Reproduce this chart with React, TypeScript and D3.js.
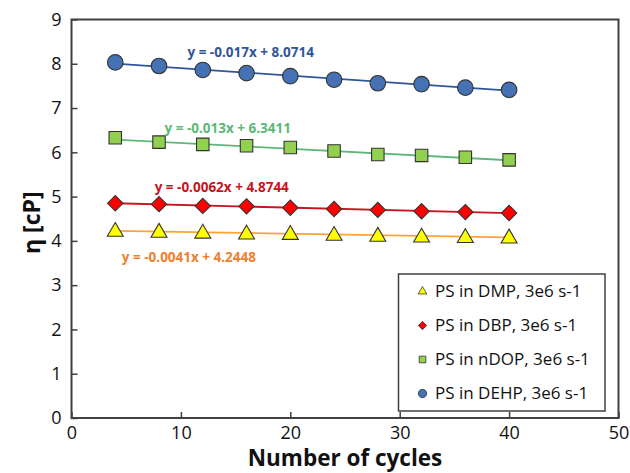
import {useEffect, useRef} from "react";
import * as d3 from "d3";

const cycles = [4, 8, 12, 16, 20, 24, 28, 32, 36, 40];
const dmpValues = [4.23, 4.21, 4.19, 4.17, 4.16, 4.14, 4.12, 4.10, 4.09, 4.08];
const dbpValues = [4.85, 4.83, 4.79, 4.78, 4.75, 4.72, 4.70, 4.67, 4.65, 4.63];
const ndopValues = [6.33, 6.23, 6.18, 6.15, 6.11, 6.03, 5.95, 5.93, 5.89, 5.83];
const dehpValues = [8.03, 7.95, 7.86, 7.79, 7.72, 7.64, 7.56, 7.54, 7.46, 7.41];

const seriesNames = ["PS in DMP, 3e6 s-1", "PS in DBP, 3e6 s-1", "PS in nDOP, 3e6 s-1", "PS in DEHP, 3e6 s-1"];
const slopes = [-0.0041, -0.0062, -0.013, -0.017];
const intercepts = [4.2448, 4.8744, 6.3411, 8.0714];
const equations = ["y = -0.0041x + 4.2448", "y = -0.0062x + 4.8744", "y = -0.013x + 6.3411", "y = -0.017x + 8.0714"];

const xTicks = [0, 10, 20, 30, 40, 50];
const yTicks = [0, 1, 2, 3, 4, 5, 6, 7, 8, 9];

const W = 630, H = 473;
const FONT = "'Open Sans', 'DejaVu Sans', sans-serif";

const App = () => {
    const svgRef = useRef<SVGSVGElement | null>(null);

    useEffect(() => {
        const svg = d3.select(svgRef.current);
        svg.selectAll("*").remove();

        const x = d3.scaleLinear().domain([0, 50]).range([71.5, 618.5]);
        const y = d3.scaleLinear().domain([0, 9]).range([418, 19.5]);

        const series = [
            {name: seriesNames[0], values: dmpValues, shape: "triangle", fill: "#FFFF00", line: "#FFA235", text: "#F0802E", lx: 4.6, ly: 3.63},
            {name: seriesNames[1], values: dbpValues, shape: "diamond", fill: "#FF0000", line: "#C8141E", text: "#C8141E", lx: 7.6, ly: 5.21},
            {name: seriesNames[2], values: ndopValues, shape: "square", fill: "#92D050", line: "#5CB878", text: "#5CB878", lx: 8.5, ly: 6.55},
            {name: seriesNames[3], values: dehpValues, shape: "circle", fill: "#4472B4", line: "#2F5597", text: "#2F5597", lx: 10.6, ly: 8.25},
        ];

        const symbolFor = (shape: string, size: number) => {
            if (shape === "triangle") return d3.symbol().type(d3.symbolTriangle).size(size * 0.58)();
            if (shape === "diamond") return d3.symbol().type(d3.symbolSquare).size(size * 0.62)();
            if (shape === "square") return d3.symbol().type(d3.symbolSquare).size(size * 0.82)();
            return d3.symbol().type(d3.symbolCircle).size(size)();
        };

        svg.append("rect").attr("width", W).attr("height", H).attr("fill", "#fff");

        // axes
        const xAxis = svg.append("g")
            .attr("transform", `translate(0,${y(0)})`)
            .call(d3.axisBottom(x).tickValues(xTicks).tickSizeInner(-6).tickSizeOuter(0).tickPadding(8));
        const yAxis = svg.append("g")
            .attr("transform", `translate(${x(0)},0)`)
            .call(d3.axisLeft(y).tickValues(yTicks).tickSizeInner(-6).tickSizeOuter(0).tickPadding(10));
        [xAxis, yAxis].forEach(a => {
            a.select(".domain").remove();
            a.selectAll(".tick line").attr("stroke", "#404040").attr("stroke-width", 1.5);
            a.selectAll(".tick text").attr("fill", "#111").style("font-family", FONT).style("font-size", "18px");
        });

        svg.append("rect")
            .attr("x", x(0)).attr("y", y(9))
            .attr("width", x(50) - x(0)).attr("height", y(0) - y(9))
            .attr("fill", "none").attr("stroke", "#404040").attr("stroke-width", 2);

        // trendlines
        series.forEach((s, i) => {
            const line = d3.line<number>().x(d => x(d)).y(d => y(slopes[i] * d + intercepts[i]));
            svg.append("path")
                .attr("d", line([cycles[0], cycles[cycles.length - 1]]))
                .attr("stroke", s.line).attr("stroke-width", 1.8).attr("fill", "none");
        });

        // markers
        series.forEach(s => {
            const rot = s.shape === "diamond" ? " rotate(45)" : "";
            svg.append("g").selectAll("path")
                .data(s.values)
                .enter()
                .append("path")
                .attr("d", symbolFor(s.shape, 190))
                .attr("transform", (d, j) => `translate(${x(cycles[j])},${y(d) + (s.shape === "triangle" ? 1 : 0)})${rot}`)
                .attr("fill", s.fill).attr("stroke", "#333").attr("stroke-width", 1.1);
        });

        // equations
        series.forEach((s, i) => {
            svg.append("text")
                .attr("x", x(s.lx)).attr("y", y(s.ly))
                .attr("dy", "0.35em")
                .attr("fill", s.text)
                .style("font-family", FONT).style("font-size", "13.5px").style("font-weight", "bold")
                .text(equations[i]);
        });

        // legend
        const legend = svg.append("g");
        legend.append("rect")
            .attr("x", 398.5).attr("y", 274).attr("width", 206.5).attr("height", 137)
            .attr("fill", "#fff").attr("stroke", "#404040").attr("stroke-width", 1.5);
        series.forEach((s, i) => {
            const ry = 291.5 + i * 34;
            const rot = s.shape === "diamond" ? " rotate(45)" : "";
            legend.append("path")
                .attr("d", symbolFor(s.shape, 55))
                .attr("transform", `translate(422.5,${ry})${rot}`)
                .attr("fill", s.fill).attr("stroke", "#333").attr("stroke-width", 0.8);
            legend.append("text")
                .attr("x", 435).attr("y", ry).attr("dy", "0.35em")
                .attr("fill", "#111")
                .style("font-family", FONT).style("font-size", "17px")
                .text(s.name);
        });

        // axis titles
        svg.append("text")
            .attr("x", (x(0) + x(50)) / 2).attr("y", 466)
            .attr("text-anchor", "middle").attr("fill", "#111")
            .style("font-family", FONT).style("font-size", "22.5px").style("font-weight", "bold")
            .text("Number of cycles");
        svg.append("text")
            .attr("transform", `translate(40,${(y(0) + y(9)) / 2 + 4}) rotate(-90)`)
            .attr("text-anchor", "middle").attr("fill", "#111")
            .style("font-family", FONT).style("font-size", "23px").style("font-weight", "bold")
            .text("η [cP]");
    }, []);

    return (
        <svg ref={svgRef} width={W} height={H}
             style={{position: "absolute", left: 0, top: 0, display: "block"}}/>
    );
};

export default App;
